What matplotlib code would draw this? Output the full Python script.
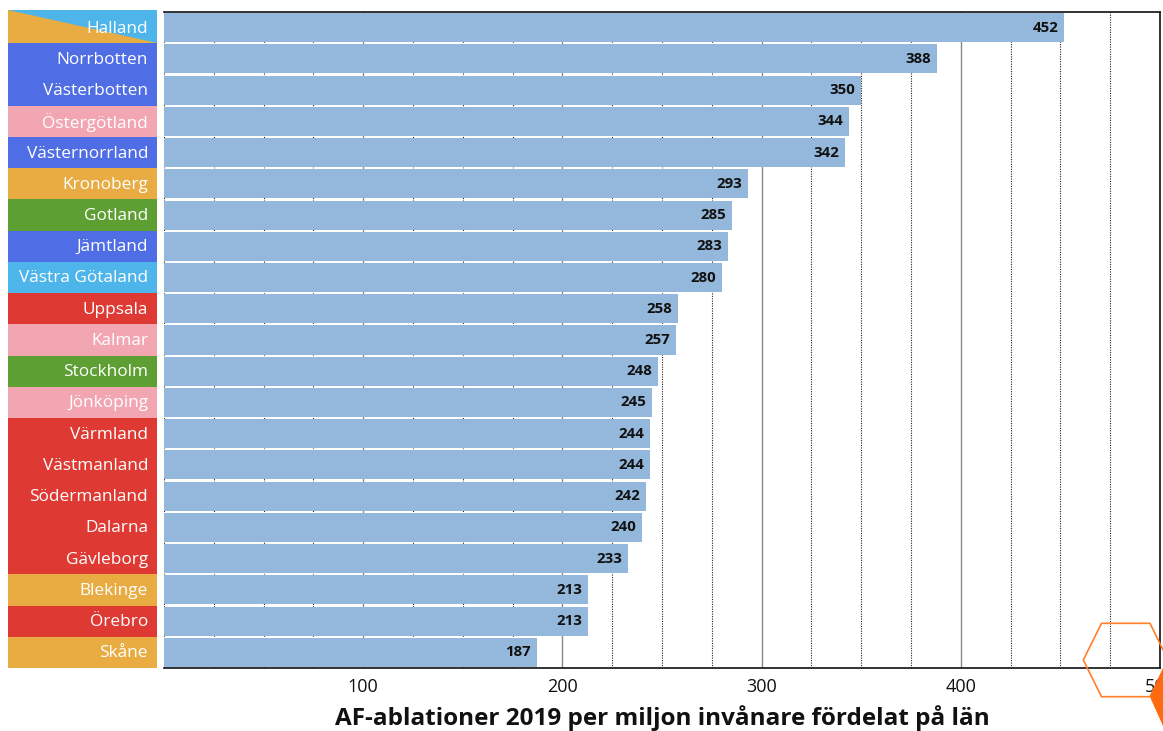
import matplotlib
matplotlib.use("Agg")
import matplotlib.pyplot as plt
from matplotlib.patches import Rectangle, Polygon
from matplotlib.transforms import blended_transform_factory
from matplotlib.ticker import MultipleLocator

plt.rcParams['font.family'] = ['Open Sans', 'DejaVu Sans']

regions = ["Halland", "Norrbotten", "Västerbotten", "Östergötland", "Västernorrland",
           "Kronoberg", "Gotland", "Jämtland", "Västra Götaland", "Uppsala", "Kalmar",
           "Stockholm", "Jönköping", "Värmland", "Västmanland", "Södermanland",
           "Dalarna", "Gävleborg", "Blekinge", "Örebro", "Skåne"]
values = [452, 388, 350, 344, 342, 293, 285, 283, 280, 258, 257, 248, 245, 244, 244,
          242, 240, 233, 213, 213, 187]
region_groups = ["split", "blue", "blue", "pink", "blue", "orange", "green", "blue",
                 "lightblue", "red", "pink", "green", "pink", "red", "red", "red",
                 "red", "red", "orange", "red", "orange"]
xticks = [100, 200, 300, 400, 500]
xlabel = "AF-ablationer 2019 per miljon invånare fördelat på län"

group_colors = {"blue": "#4F6DE5", "pink": "#F2A6B2", "orange": "#E8AC42",
                "green": "#5E9F33", "lightblue": "#4EB5EA", "red": "#DE3A33"}
bar_color = "#94B8DB"

W, H = 1163, 731
fig = plt.figure(figsize=(W / 100, H / 100), dpi=100)
ax = fig.add_axes([164 / W, 1 - 668 / H, (1160 - 164) / W, (668 - 12) / H])

n = len(regions)
ypos = list(range(n))
ax.barh(ypos, values, height=0.93, color=bar_color, zorder=2)
ax.set_ylim(n - 0.5, -0.5)
ax.set_xlim(0, 500)

# grid
ax.xaxis.set_major_locator(MultipleLocator(100))
ax.xaxis.set_minor_locator(MultipleLocator(25))
ax.grid(which='major', axis='x', color='#8a8a8a', linestyle='-', linewidth=1.0, zorder=0)
ax.grid(which='minor', axis='x', color='#222222', linestyle=(0, (1, 1.2)), linewidth=0.8, zorder=0)
ax.set_axisbelow(True)
ax.set_xticks(xticks)
ax.set_xticklabels([str(t) for t in xticks], fontsize=13, color='#111111')
ax.tick_params(axis='x', which='both', length=0, pad=7)
ax.set_yticks([])
ax.spines['left'].set_visible(False)
for s in ['top', 'right', 'bottom']:
    ax.spines[s].set_color('#111111')
    ax.spines[s].set_linewidth(1.2)
ax.set_xlabel(xlabel, fontsize=17.5, fontweight='bold', labelpad=7, color='#111111')

# value labels
for y, v in zip(ypos, values):
    ax.text(v - 3, y, str(v), ha='right', va='center', fontsize=10.8,
            fontweight='bold', color='#111111', zorder=3)

# coloured region labels on the left
tr = blended_transform_factory(fig.transFigure, ax.transData)
x0, x1 = 8 / W, 157 / W
for y, name, grp in zip(ypos, regions, region_groups):
    if grp == "split":
        ax.add_patch(Rectangle((x0, y - 0.56), x1 - x0, 1.06, transform=tr,
                               facecolor=group_colors["lightblue"], edgecolor='none',
                               clip_on=False, zorder=5))
        ax.add_patch(Polygon([(x0, y - 0.56), (x0, y + 0.5), (x1, y + 0.5)], closed=True,
                             transform=tr, facecolor=group_colors["orange"],
                             edgecolor='none', clip_on=False, zorder=6))
    else:
        ax.add_patch(Rectangle((x0, y - 0.5), x1 - x0, 1.0, transform=tr,
                               facecolor=group_colors[grp], edgecolor='none',
                               clip_on=False, zorder=5))
    ax.text(148 / W, y + 0.03, name, transform=tr, ha='right', va='center',
            fontsize=12.4, color='white', zorder=7, clip_on=False)

# decorative hexagons bottom-right
hex_pts = [(1101.5, 623.3), (1150, 623.3), (1168, 660), (1150, 696.7), (1101.5, 696.7), (1083.3, 660)]
fig.patches.append(Polygon([(px / W, 1 - py / H) for px, py in hex_pts], closed=True,
                           transform=fig.transFigure, facecolor='none',
                           edgecolor='#FF7F2A', linewidth=1.2, zorder=10))
fill_pts = [(1163, 668), (1150, 697), (1163, 726)]
fig.patches.append(Polygon([(px / W, 1 - py / H) for px, py in fill_pts], closed=True,
                           transform=fig.transFigure, facecolor='#FF6A10',
                           edgecolor='none', zorder=10))

fig.savefig("out.png", dpi=100)
